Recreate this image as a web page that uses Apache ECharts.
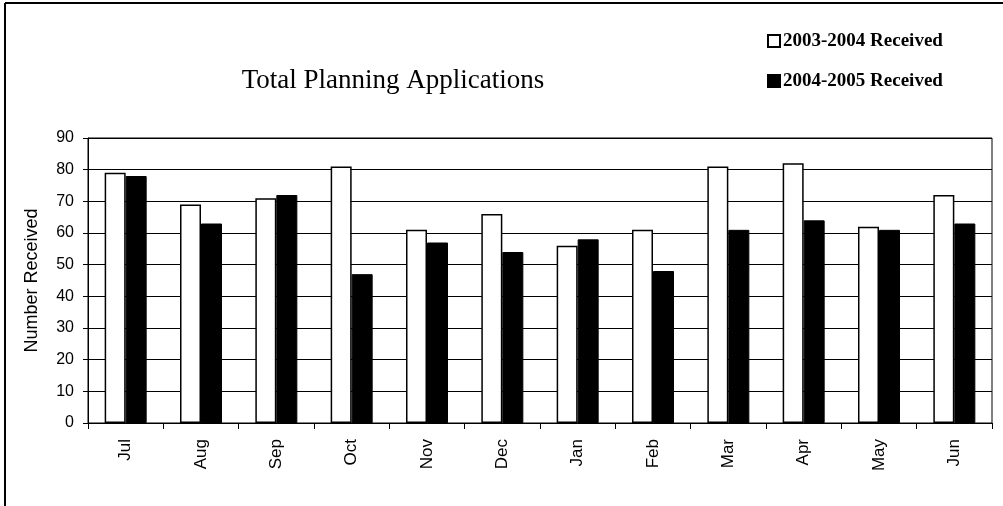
<!DOCTYPE html>
<html>
<head>
<meta charset="utf-8">
<script src="https://cdn.jsdelivr.net/npm/echarts@6/dist/echarts.min.js"></script>
<style>
  html, body { margin: 0; padding: 0; background: #fff; }
  #chart { width: 1003px; height: 506px; }
</style>
</head>
<body>
<div id="chart"></div>
<script>
const months = ['Jul', 'Aug', 'Sep', 'Oct', 'Nov', 'Dec', 'Jan', 'Feb', 'Mar', 'Apr', 'May', 'Jun']
const received0304 = [79, 69, 71, 81, 61, 66, 56, 61, 81, 82, 62, 72]
const received0405 = [78, 63, 72, 47, 57, 54, 58, 48, 61, 64, 61, 63]

const chart = echarts.init(document.getElementById('chart'))
chart.setOption({
  animation: false,
  title: {
    text: 'Total Planning Applications',
    left: 388,
    textAlign: 'center',
    top: 62,
    textStyle: { fontFamily: 'Liberation Serif', fontSize: 27, fontWeight: 'normal', color: '#000' }
  },
  legend: {
    orient: 'vertical',
    left: 762,
    top: 26,
    itemGap: 20,
    itemWidth: 12,
    itemHeight: 12,
    icon: 'rect',
    textStyle: { fontFamily: 'Liberation Serif', fontSize: 19, lineHeight: 20, fontWeight: 'bold', color: '#000', padding: [0, 0, 0, -2] },
    data: ['2003-2004 Received', '2004-2005 Received']
  },
  graphic: [
    { type: 'line', shape: { x1: 5, y1: 3, x2: 1003, y2: 3 }, style: { stroke: '#000', lineWidth: 2 } },
    { type: 'line', shape: { x1: 5, y1: 3, x2: 5, y2: 506 }, style: { stroke: '#000', lineWidth: 2 } }
  ],
  grid: { left: 88, right: 11, top: 138, bottom: 83, show: true, borderColor: '#000', borderWidth: 1 },
  xAxis: {
    type: 'category',
    data: months,
    axisLine: { lineStyle: { color: '#000' } },
    axisTick: { show: true, inside: false, length: 6, lineStyle: { color: '#000' } },
    axisLabel: { rotate: 90, margin: 16, fontFamily: 'Liberation Sans', fontSize: 17, color: '#000' }
  },
  yAxis: {
    type: 'value',
    min: 0,
    max: 90,
    interval: 10,
    name: 'Number Received',
    nameLocation: 'middle',
    nameGap: 47,
    nameTextStyle: { fontFamily: 'Liberation Sans', fontSize: 18, color: '#000' },
    axisLine: { show: true, lineStyle: { color: '#000' } },
    axisTick: { show: true, length: 5, lineStyle: { color: '#000' } },
    axisLabel: { margin: 14, fontFamily: 'Liberation Sans', fontSize: 16, color: '#000' },
    splitLine: { show: true, lineStyle: { color: '#000', width: 1 } }
  },
  series: [
    {
      name: '2003-2004 Received',
      type: 'bar',
      data: received0304,
      barWidth: 21,
      barGap: '0%',
      itemStyle: { color: '#fff', borderColor: '#000', borderWidth: 1.5 }
    },
    {
      name: '2004-2005 Received',
      type: 'bar',
      data: received0405,
      barWidth: 21,
      itemStyle: { color: '#000', borderColor: '#000', borderWidth: 1 }
    }
  ]
})
</script>
</body>
</html>
